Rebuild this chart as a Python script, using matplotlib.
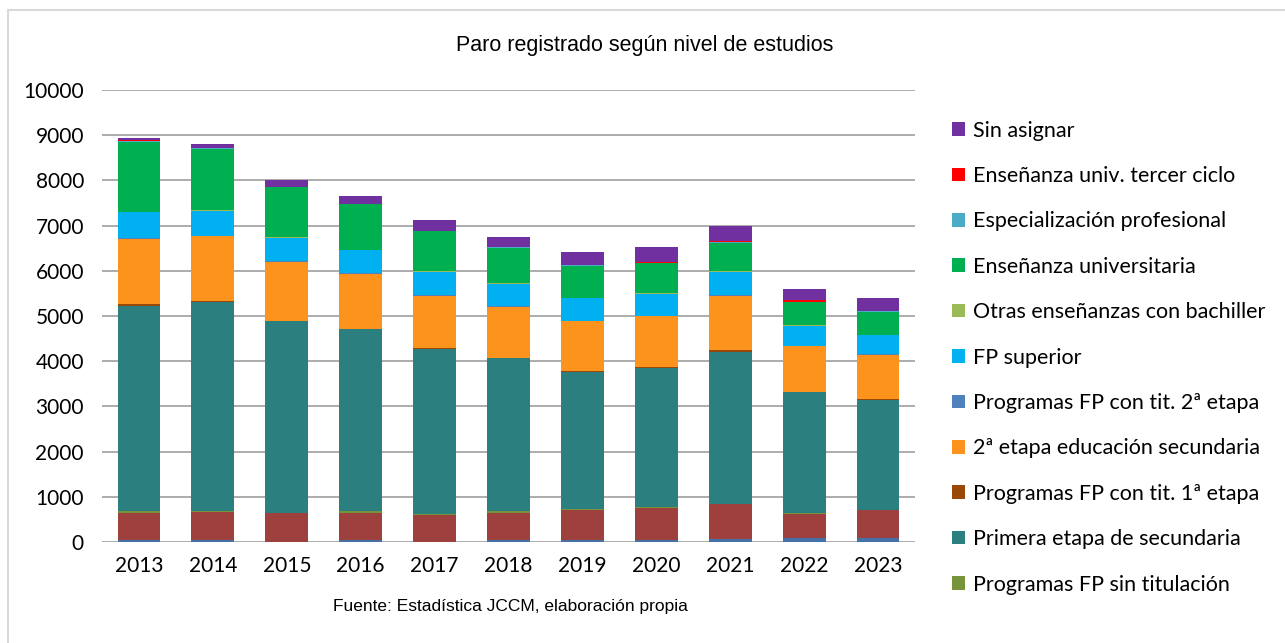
import matplotlib
matplotlib.use('Agg')
import matplotlib.pyplot as plt
from matplotlib.patches import Rectangle
import numpy as np

years = ['2013', '2014', '2015', '2016', '2017', '2018', '2019', '2020', '2021', '2022', '2023']

# series from bottom to top of each bar
sin_estudios = [35, 35, 10, 35, 10, 35, 35, 35, 60, 90, 90]
estudios_primarios = [613, 634, 630, 613, 586, 613, 664, 715, 772, 528, 609]
fp_sin_titulacion = [29, 10, 5, 29, 29, 29, 29, 30, 10, 22, 10]
primera_etapa = [4539, 4634, 4240, 4025, 3642, 3385, 3032, 3068, 3359, 2671, 2433]
fp_tit_1 = [40, 15, 10, 15, 15, 15, 15, 15, 40, 10, 15]
segunda_etapa = [1448, 1434, 1308, 1214, 1171, 1133, 1110, 1133, 1212, 1006, 986]
fp_tit_2 = [15, 15, 10, 10, 10, 10, 10, 15, 10, 15, 25]
fp_superior = [572, 536, 520, 520, 519, 491, 498, 486, 519, 442, 402]
otras_bachiller = [15, 30, 10, 10, 10, 10, 10, 10, 10, 10, 10]
universitaria = [1553, 1361, 1109, 1006, 880, 791, 712, 659, 631, 519, 519]
especializacion = [5, 5, 5, 5, 5, 5, 5, 5, 5, 5, 5]
tercer_ciclo = [25, 5, 5, 5, 5, 5, 5, 25, 25, 30, 5]
sin_asignar = [58, 94, 151, 173, 248, 233, 292, 323, 345, 259, 284]

series = [
    ('Sin estudios', sin_estudios, '#4472A8', False),
    ('Estudios primarios', estudios_primarios, '#9E413E', False),
    ('Programas FP sin titulación', fp_sin_titulacion, '#77933C', True),
    ('Primera etapa de secundaria', primera_etapa, '#2B7F7F', True),
    ('Programas FP con tit. 1ª etapa', fp_tit_1, '#984807', True),
    ('2ª etapa educación secundaria', segunda_etapa, '#FC931C', True),
    ('Programas FP con tit. 2ª etapa', fp_tit_2, '#4F81BD', True),
    ('FP superior', fp_superior, '#00B0F0', True),
    ('Otras enseñanzas con bachiller', otras_bachiller, '#9BBB59', True),
    ('Enseñanza universitaria', universitaria, '#00B050', True),
    ('Especialización profesional', especializacion, '#4BACC6', True),
    ('Enseñanza univ. tercer ciclo', tercer_ciclo, '#FF0000', True),
    ('Sin asignar', sin_asignar, '#7030A0', True),
]

plt.rcParams['font.family'] = ['Lato', 'DejaVu Sans']

fig = plt.figure(figsize=(12.85, 6.43), dpi=100)
ax = fig.add_axes([102 / 1285, 1 - 542 / 643, 813 / 1285, 452 / 643])

x = np.arange(len(years))
bottom = np.zeros(len(years))
handles = []
labels = []
for name, vals, color, show in series:
    b = ax.bar(x, vals, width=0.58, bottom=bottom, color=color, linewidth=0)
    bottom += np.array(vals)
    if show:
        handles.append(b)
        labels.append(name)

ax.set_xlim(-0.5, len(years) - 0.5)
ax.set_ylim(0, 10000)
ax.set_yticks(np.arange(0, 10001, 1000))
ax.set_xticks(x)
ax.set_xticklabels(years)
ax.tick_params(length=0, labelsize=15, colors='black')
ax.tick_params(axis='y', pad=13)
ax.tick_params(axis='x', pad=10)
ax.grid(axis='y', color='#a6a6a6', linewidth=1.3)
ax.set_axisbelow(True)
for s in ax.spines.values():
    s.set_visible(False)

leg = fig.legend(handles[::-1], labels[::-1], loc='upper left',
                 bbox_to_anchor=(943 / 1285, 1 - 112 / 643), frameon=False,
                 fontsize=15.5, handlelength=0.6, handleheight=0.6,
                 handletextpad=0.4, labelspacing=1.18, borderaxespad=0)

fig.text(0.502, 1 - 45 / 643, 'Paro registrado según nivel de estudios',
         ha='center', va='center', fontsize=15.5, family='Liberation Sans')
fig.text(510 / 1285, 1 - 607 / 643, 'Fuente: Estadística JCCM, elaboración propia',
         ha='center', va='center', fontsize=12.5, family='Liberation Sans')

fig.patches.append(Rectangle((8 / 1285, -0.05), 1.1, 1 - 10 / 643 + 0.05,
                             transform=fig.transFigure, fill=False,
                             edgecolor='#d9d9d9', linewidth=1.5))

fig.savefig('out.png', dpi=100)
plt.close()
